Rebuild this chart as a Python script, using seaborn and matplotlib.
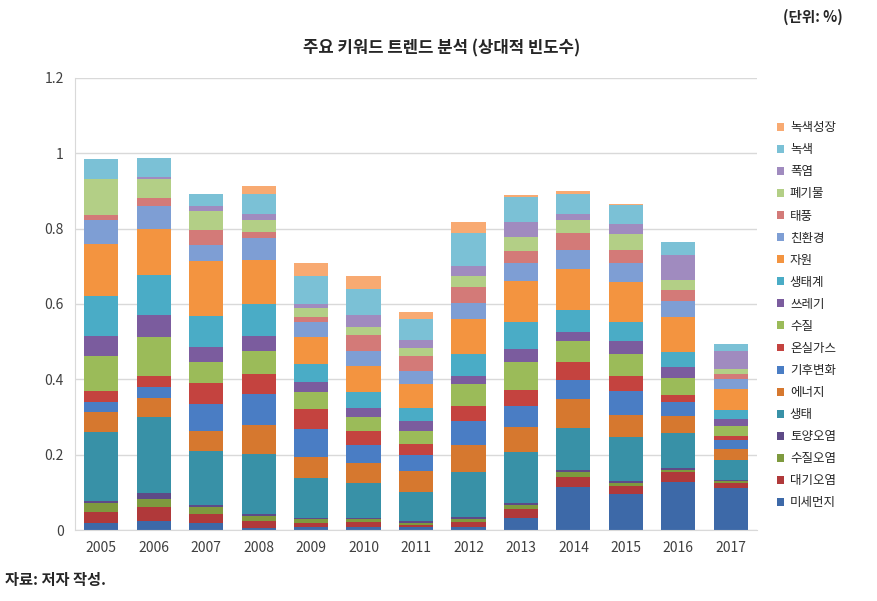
import numpy as np
import pandas as pd
import matplotlib
matplotlib.use("Agg")
import matplotlib.pyplot as plt
import seaborn as sns
from matplotlib.patches import Patch

sns.set_style("white")
plt.rcParams['font.family'] = ['Noto Sans CJK KR', 'DejaVu Sans']

# --------------------------
# DATA (bottom -> top of each stack)
# --------------------------
years = ['2005', '2006', '2007', '2008', '2009', '2010', '2011',
         '2012', '2013', '2014', '2015', '2016', '2017']

keywords = ['미세먼지', '대기오염', '수질오염', '토양오염', '생태', '에너지',
            '기후변화', '온실가스', '수질', '쓰레기', '생태계', '자원',
            '친환경', '태풍', '폐기물', '폭염', '녹색', '녹색성장']

미세먼지 = [0.019, 0.025, 0.019, 0.006, 0.007, 0.009, 0.007, 0.007, 0.033, 0.115, 0.095, 0.128, 0.112]
대기오염 = [0.029, 0.035, 0.024, 0.019, 0.012, 0.011, 0.007, 0.013, 0.023, 0.027, 0.023, 0.025, 0.013]
수질오염 = [0.024, 0.023, 0.017, 0.013, 0.011, 0.009, 0.005, 0.010, 0.011, 0.013, 0.007, 0.007, 0.004]
토양오염 = [0.004, 0.014, 0.007, 0.005, 0.003, 0.004, 0.004, 0.004, 0.005, 0.004, 0.004, 0.004, 0.003]
생태 = [0.183, 0.204, 0.143, 0.160, 0.104, 0.093, 0.078, 0.119, 0.134, 0.112, 0.117, 0.094, 0.055]
에너지 = [0.055, 0.050, 0.053, 0.075, 0.058, 0.052, 0.056, 0.074, 0.068, 0.076, 0.059, 0.045, 0.029]
기후변화 = [0.027, 0.029, 0.072, 0.084, 0.074, 0.048, 0.042, 0.063, 0.056, 0.052, 0.063, 0.036, 0.022]
온실가스 = [0.029, 0.030, 0.056, 0.052, 0.051, 0.036, 0.030, 0.040, 0.042, 0.047, 0.042, 0.020, 0.011]
수질 = [0.092, 0.103, 0.056, 0.061, 0.046, 0.037, 0.035, 0.057, 0.073, 0.056, 0.058, 0.044, 0.027]
쓰레기 = [0.054, 0.059, 0.040, 0.039, 0.026, 0.024, 0.025, 0.023, 0.036, 0.024, 0.035, 0.029, 0.018]
생태계 = [0.105, 0.105, 0.082, 0.085, 0.050, 0.044, 0.036, 0.056, 0.070, 0.058, 0.048, 0.041, 0.025]
자원 = [0.139, 0.123, 0.144, 0.119, 0.070, 0.069, 0.062, 0.094, 0.111, 0.108, 0.108, 0.092, 0.056]
친환경 = [0.063, 0.059, 0.044, 0.058, 0.040, 0.040, 0.035, 0.043, 0.046, 0.050, 0.049, 0.042, 0.026]
태풍 = [0.012, 0.022, 0.039, 0.016, 0.013, 0.043, 0.039, 0.042, 0.032, 0.047, 0.035, 0.029, 0.013]
폐기물 = [0.098, 0.050, 0.050, 0.032, 0.024, 0.019, 0.022, 0.028, 0.038, 0.034, 0.044, 0.028, 0.014]
폭염 = [0.000, 0.007, 0.013, 0.015, 0.010, 0.033, 0.022, 0.028, 0.040, 0.015, 0.025, 0.065, 0.048]
녹색 = [0.053, 0.050, 0.033, 0.053, 0.075, 0.069, 0.055, 0.088, 0.065, 0.055, 0.050, 0.035, 0.018]
녹색성장 = [0.000, 0.000, 0.000, 0.020, 0.035, 0.033, 0.020, 0.028, 0.007, 0.007, 0.004, 0.000, 0.000]

colors = ['#3D69A8', '#B0393A', '#7E9A3E', '#5E4A87', '#3891A7', '#D6782F',
          '#4A7DC4', '#C4433F', '#9BBB59', '#7B5C9E', '#4AACC6', '#F39440',
          '#7E9ED4', '#D37A78', '#B3CF86', '#A08BBF', '#7BC1D6', '#F8AA72']

# --------------------------
# BUILD TABLE
# --------------------------
df = pd.DataFrame({
    '미세먼지': 미세먼지, '대기오염': 대기오염, '수질오염': 수질오염, '토양오염': 토양오염,
    '생태': 생태, '에너지': 에너지, '기후변화': 기후변화, '온실가스': 온실가스,
    '수질': 수질, '쓰레기': 쓰레기, '생태계': 생태계, '자원': 자원,
    '친환경': 친환경, '태풍': 태풍, '폐기물': 폐기물, '폭염': 폭염,
    '녹색': 녹색, '녹색성장': 녹색성장,
}, index=years)

cum = df[keywords].cumsum(axis=1)
cum['year'] = years

# --------------------------
# PLOT
# --------------------------
fig = plt.figure(figsize=(8.78, 6.01), dpi=100)
ax = fig.add_axes([0.0854, 0.1181, 0.7768, 0.7522])

# draw cumulative totals from the top layer down so lower layers overlay
for kw, col in reversed(list(zip(keywords, colors))):
    sns.barplot(data=cum, x='year', y=kw, color=col, width=0.65,
                saturation=1, linewidth=0, ax=ax)

ax.set_xlim(-0.5, 12.5)
ax.set_ylim(0, 1.2)
ax.set_yticks([0, 0.2, 0.4, 0.6, 0.8, 1.0, 1.2])
ax.set_yticklabels(['0', '0.2', '0.4', '0.6', '0.8', '1', '1.2'])
ax.set_xlabel('')
ax.set_ylabel('')
ax.yaxis.grid(True, color='#D9D9D9', linewidth=1)
ax.set_axisbelow(True)
ax.tick_params(axis='both', length=0, labelsize=10, colors='#404040', pad=8)
for s in ['top', 'right']:
    ax.spines[s].set_visible(False)
for s in ['left', 'bottom']:
    ax.spines[s].set_color('#D9D9D9')

handles = [Patch(facecolor=c, edgecolor='none', label=k)
           for k, c in zip(keywords, colors)][::-1]
fig.legend(handles=handles, loc='upper left', bbox_to_anchor=(0.879, 0.8065),
           frameon=False, fontsize=9, handlelength=0.6, handleheight=0.6,
           handletextpad=0.45, labelspacing=0.725, borderaxespad=0)

fig.text(0.503, 0.92, '주요 키워드 트렌드 분석 (상대적 빈도수)', ha='center', va='center',
         fontsize=12, fontweight='bold', color='#262626')
fig.text(0.96, 0.972, '(단위: %)', ha='right', va='center', fontsize=10.5, fontweight='bold')
fig.text(0.006, 0.035, '자료: 저자 작성.', ha='left', va='center', fontsize=11, fontweight='bold')

fig.savefig('out.png', dpi=100)
